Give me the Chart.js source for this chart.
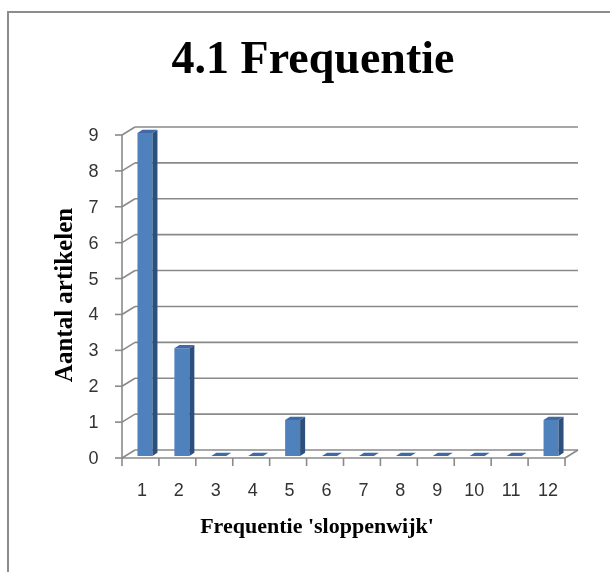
<!DOCTYPE html>
<html><head><meta charset="utf-8">
<script src="https://cdn.jsdelivr.net/npm/chart.js@4.4.1/dist/chart.umd.min.js"></script>
<style>html,body{margin:0;padding:0;background:#fff;}#wrap{width:610px;height:572px;}</style>
</head><body><div id="wrap"><canvas id="c" width="610" height="572"></canvas></div>
<script>
const categories = ['1','2','3','4','5','6','7','8','9','10','11','12'];
const values = [9, 3, 0, 0, 1, 0, 0, 0, 0, 0, 0, 1];
const yTicks = [0, 1, 2, 3, 4, 5, 6, 7, 8, 9];
const chartTitle = '4.1 Frequentie';
const xTitle = "Frequentie 'sloppenwijk'";
const yTitle = 'Aantal artikelen';

const FRONT = {dx: -4.5, dy: 2};
const BACK = {dx: 8.5, dy: -6};
const BAR_DEPTH = {dx: 5, dy: -3.3};
const GRID = '#8a8a8a';

function line(ctx, x1, y1, x2, y2) { ctx.beginPath(); ctx.moveTo(x1, y1); ctx.lineTo(x2, y2); ctx.stroke(); }
function poly(ctx, pts) { ctx.beginPath(); ctx.moveTo(pts[0][0], pts[0][1]); for (let i = 1; i < pts.length; i++) ctx.lineTo(pts[i][0], pts[i][1]); ctx.closePath(); ctx.fill(); }

const excel3d = {
  id: 'excel3d',
  beforeDraw(chart) {
    const ctx = chart.ctx;
    ctx.save();
    ctx.fillStyle = '#fff'; ctx.fillRect(0, 0, chart.width, chart.height);
    ctx.strokeStyle = '#8c8c8c'; ctx.lineWidth = 2;
    ctx.strokeRect(8, 12, chart.width + 40, chart.height + 40);
    ctx.restore();
  },
  beforeDatasetsDraw(chart) {
    const {ctx, chartArea: a, scales: {y}} = chart;
    ctx.save();
    ctx.strokeStyle = GRID; ctx.lineWidth = 1.6;
    const fx = a.left + FRONT.dx;
    yTicks.forEach(v => {
      const py = y.getPixelForValue(v);
      line(ctx, a.left + BACK.dx, py + BACK.dy, a.right + BACK.dx, py + BACK.dy);
      line(ctx, fx, py + FRONT.dy, a.left + BACK.dx, py + BACK.dy);
      line(ctx, fx - 7, py + FRONT.dy, fx, py + FRONT.dy);
    });
    const yTop = y.getPixelForValue(yTicks[yTicks.length - 1]);
    const y0 = y.getPixelForValue(0);
    line(ctx, fx, yTop + FRONT.dy, fx, y0 + FRONT.dy);
    line(ctx, fx, y0 + FRONT.dy, a.right + FRONT.dx, y0 + FRONT.dy);
    line(ctx, a.right + FRONT.dx, y0 + FRONT.dy, a.right + BACK.dx, y0 + BACK.dy);
    const n = categories.length;
    for (let i = 0; i <= n; i++) {
      const px = a.left + i * (a.right - a.left) / n + FRONT.dx;
      line(ctx, px, y0 + FRONT.dy, px, y0 + FRONT.dy + 8);
    }
    ctx.restore();
  },
  afterDatasetsDraw(chart) {
    const ctx = chart.ctx;
    const meta = chart.getDatasetMeta(0);
    ctx.save();
    meta.data.forEach(bar => {
      const p = bar.getProps(['x', 'y', 'base', 'width'], true);
      const l = p.x - p.width / 2, r = p.x + p.width / 2, top = p.y, base = p.base;
      ctx.fillStyle = '#2d4f7c';
      poly(ctx, [[r, top], [r + BAR_DEPTH.dx, top + BAR_DEPTH.dy], [r + BAR_DEPTH.dx, base + BAR_DEPTH.dy], [r, base]]);
      ctx.fillStyle = '#3f6aa3';
      poly(ctx, [[l, top], [l + BAR_DEPTH.dx, top + BAR_DEPTH.dy], [r + BAR_DEPTH.dx, top + BAR_DEPTH.dy], [r, top]]);
    });
    ctx.restore();
  },
  afterDraw(chart) {
    const ctx = chart.ctx;
    ctx.save();
    ctx.fillStyle = '#000';
    ctx.textAlign = 'center'; ctx.textBaseline = 'alphabetic';
    ctx.font = 'bold 46px "Liberation Serif"';
    ctx.fillText(chartTitle, 313, 73);
    ctx.font = 'bold 22px "Liberation Serif"';
    ctx.fillText(xTitle, 317, 533);
    ctx.translate(72, 295); ctx.rotate(-Math.PI / 2);
    ctx.font = 'bold 25px "Liberation Serif"';
    ctx.fillText(yTitle, 0, 0);
    ctx.restore();
  }
};

new Chart(document.getElementById('c'), {
  type: 'bar',
  data: {
    labels: categories,
    datasets: [{
      data: values,
      backgroundColor: '#4f81bd',
      borderWidth: 0,
      categoryPercentage: 1,
      barPercentage: 0.406
    }]
  },
  options: {
    responsive: false,
    animation: false,
    layout: {padding: {left: 0, top: 133, right: 40.5, bottom: 0}},
    plugins: {legend: {display: false}, tooltip: {enabled: false}, title: {display: false}},
    scales: {
      x: {
        offset: true,
        grid: {display: false, drawTicks: false},
        border: {display: false},
        ticks: {color: '#333', font: {family: 'Liberation Sans', size: 18}, padding: 24, labelOffset: -3, maxRotation: 0, autoSkip: false},
        afterFit(s) { s.height = 116; }
      },
      y: {
        min: 0, max: 9,
        afterBuildTicks(s) { s.ticks = yTicks.map(v => ({value: v})); },
        grid: {display: false, drawTicks: false},
        border: {display: false},
        ticks: {color: '#333', font: {family: 'Liberation Sans', size: 18}, padding: 28, labelOffset: 3},
        afterFit(s) { s.width = 126.5; }
      }
    }
  },
  plugins: [excel3d]
});
</script>
</body></html>
